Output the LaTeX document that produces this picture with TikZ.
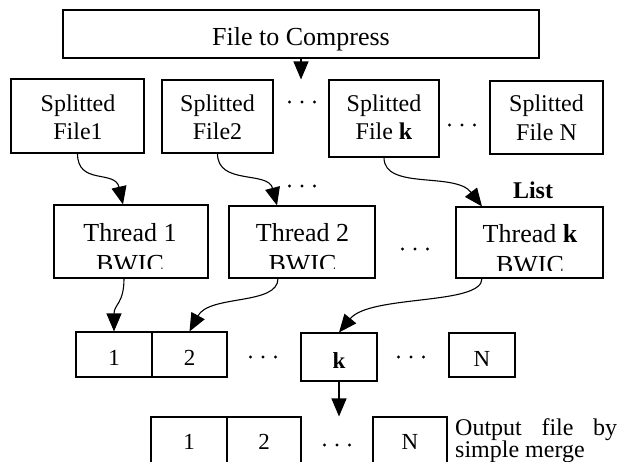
\documentclass[tikz,border=0pt]{standalone}
\usepackage{fontspec}
\setmainfont{Liberation Serif}
\usetikzlibrary{arrows.meta,calc}
\newcommand\mydots{\tikz[x=1pt,y=1pt]{\foreach \i in {0,12.5,25}\fill (\i pt,0pt) circle (1.7pt);}}
\begin{document}
\begin{tikzpicture}[x=1pt,y=-1pt,
  box/.style={draw, line width=1.1pt, inner sep=0pt},
  lbl/.style={inner sep=0pt, anchor=base, font=\fontsize{24}{29}\selectfont},
  thr/.style={lbl, font=\fontsize{26}{30}\selectfont},
  dig/.style={lbl, font=\fontsize{23}{28}\selectfont},
  dotsn/.style={inner sep=0pt, anchor=center},
  arr/.style={line width=1.1pt, -{Triangle[length=18pt,width=15pt]}}]
\clip (0,0) rectangle (632,461);
\fill[white] (0,0) rectangle (632,461);
% top box
\node[box, minimum width=476, minimum height=48] (top) at (301,34) {};
\node[lbl, font=\fontsize{26}{30}\selectfont] (topt) at (301,45) {File to Compress};
% splitted files
\node[box, minimum width=133, minimum height=74] (f1) at (77.5,116) {};
\node[lbl] (f1a) at (78,111) {Splitted};
\node[lbl] (f1b) at (78,139) {File1};
\node[box, minimum width=111, minimum height=73] (f2) at (217.5,116.5) {};
\node[lbl] (f2a) at (217.5,111) {Splitted};
\node[lbl] (f2b) at (217.5,139) {File2};
\node[box, minimum width=110, minimum height=77] (fk) at (384,118.5) {};
\node[lbl] (fka) at (384,111) {Splitted};
\node[lbl] (fkb) at (384,139) {File \textbf{k}};
\node[box, minimum width=113, minimum height=73] (fN) at (546.5,117.5) {};
\node[lbl] (fNa) at (546.5,111) {Splitted};
\node[lbl] (fNb) at (546.5,140) {File N};
\node[dotsn] (dA) at (302,102) {\mydots};
\node[dotsn] (dB) at (462,125) {\mydots};
% threads
\node[box, minimum width=154, minimum height=73] (t1) at (131,241.5) {};
\node[box, minimum width=146, minimum height=72] (t2) at (302,242) {};
\node[box, minimum width=147, minimum height=71] (tk) at (529.5,242.5) {};
\begin{scope}
\clip (t1.north west) rectangle ($(t1.south east)+(0,-10)$);
\node[thr] (t1a) at (130,241) {Thread 1};
\node[thr] (t1b) at (130,272) {BWIC};
\end{scope}
\begin{scope}
\clip (t2.north west) rectangle ($(t2.south east)+(0,-10)$);
\node[thr] (t2a) at (302.5,241) {Thread 2};
\node[thr] (t2b) at (302.5,272) {BWIC};
\end{scope}
\begin{scope}
\clip (tk.north west) rectangle ($(tk.south east)+(0,-8)$);
\node[thr] (tka) at (530,242) {Thread \textbf{k}};
\node[thr] (tkb) at (530,273) {BWIC};
\end{scope}
\node[dotsn] (dC) at (302,186) {\mydots};
\node[dotsn] (dD) at (415,249) {\mydots};
\node[lbl] (list) at (533,198) {\textbf{List}};
% list row
\node[box, minimum width=76, minimum height=45] (L1) at (114,354.5) {};
\node[box, minimum width=75, minimum height=45] (L2) at (189.5,354.5) {};
\node[box, minimum width=76, minimum height=48] (Lk) at (339,357) {};
\node[box, minimum width=66, minimum height=44] (LN) at (482,355) {};
\node[dig] (L1t) at (114,365) {1};
\node[dig] (L2t) at (189.5,365) {2};
\node[dig] (Lkt) at (339,368) {\textbf{k}};
\node[dig] (LNt) at (482,366) {N};
\node[dotsn] (dE) at (263,357) {\mydots};
\node[dotsn] (dF) at (411,357) {\mydots};
% output row
\node[box, minimum width=76, minimum height=50] (O1) at (189,442) {};
\node[box, minimum width=74, minimum height=50] (O2) at (264,442) {};
\node[box, minimum width=74, minimum height=50] (ON) at (410,442) {};
\node[dig] (O1t) at (189,449) {1};
\node[dig] (O2t) at (264,449) {2};
\node[dig] (ONt) at (410,449) {N};
\node[dotsn] (dG) at (337,445) {\mydots};
\node[lbl, anchor=base west] (out1) at (455,435) {\makebox[162pt][s]{Output file by}};
\node[lbl, anchor=base west] (out2) at (455,457) {simple merge};
% connectors
\draw[arr] (top.south) -- (top.south |- f2.north);
\draw[arr] (f1.south) .. controls +(0,32) and +(-8,-35) .. ($(t1.north)+(-8,0)$);
\draw[arr] (f2.south) .. controls +(0,32) and +(-9,-35) .. ($(t2.north)+(-25,0)$);
\draw[arr] (fk.south) .. controls +(0,33) and +(-27,-35) .. ($(tk.north)+(-47.5,0)$);
\draw[arr] ($(t1.south)+(-7,0)$) .. controls +(0,25) and +(0,-27) .. (L1.north);
\draw[arr] ($(t2.south)+(-24,0)$) .. controls +(0,27) and +(20,-37) .. (L2.north);
\draw[arr] ($(tk.south)+(-47.5,0)$) .. controls +(0,27) and +(31,-38) .. (Lk.north);
\draw[arr] (Lk.south) -- (Lk.south |- ON.north);
\end{tikzpicture}
\end{document}
